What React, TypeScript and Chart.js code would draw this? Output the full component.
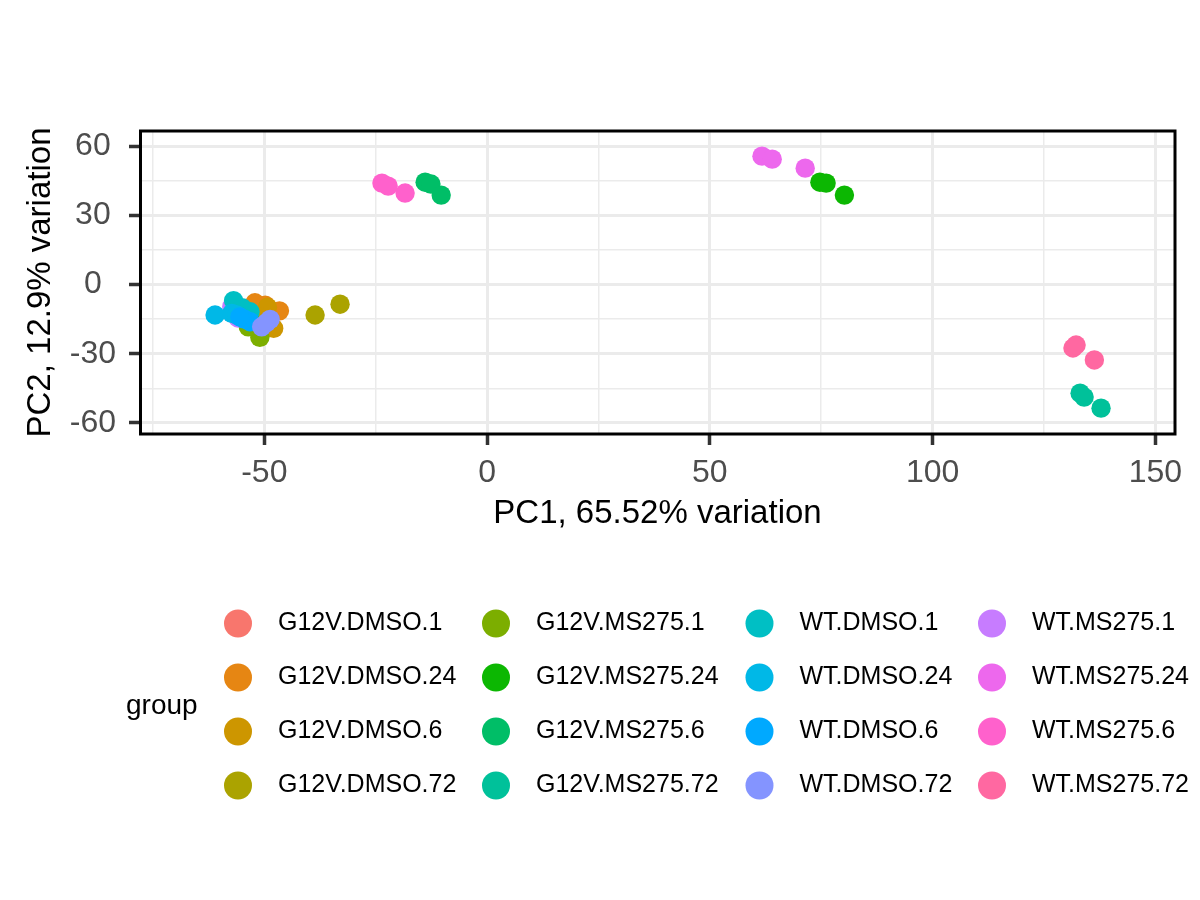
import React, { useEffect, useRef } from "react";
import { Chart, registerables } from "chart.js";

Chart.register(...registerables);

const FONT = '"Liberation Sans", Arial, Helvetica, sans-serif';

const groups = [
  "G12V.DMSO.1", "G12V.DMSO.24", "G12V.DMSO.6", "G12V.DMSO.72",
  "G12V.MS275.1", "G12V.MS275.24", "G12V.MS275.6", "G12V.MS275.72",
  "WT.DMSO.1", "WT.DMSO.24", "WT.DMSO.6", "WT.DMSO.72",
  "WT.MS275.1", "WT.MS275.24", "WT.MS275.6", "WT.MS275.72",
];

const groupColors = [
  "#F8766D", "#E68613", "#CD9600", "#ABA300",
  "#7CAE00", "#0CB702", "#00BE67", "#00C19A",
  "#00BFC4", "#00B8E7", "#00A9FF", "#8494FF",
  "#C77CFF", "#ED68ED", "#FF61CC", "#FF68A1",
];

// PC1 values per group (3 replicates)
const pc1: number[][] = [
  [-51.5, -50.5, -52.5],
  [-52.1, -49.8, -46.6],
  [-47.9, -49.3, -51.0],
  [-38.6, -33.0, -50.0],
  [-51.0, -53.6, -52.0],
  [74.7, 76.1, 80.2],
  [-13.9, -12.6, -10.3],
  [133.1, 134.0, 137.8],
  [-56.9, -53.2, -55.0],
  [-61.05, -57.3, -56.2],
  [-53.2, -54.5, -55.5],
  [-50.6, -48.7, -49.5],
  [-57.3, -55.9, -56.5],
  [61.7, 64.0, 71.4],
  [-23.6, -22.2, -18.4],
  [131.5, 132.2, 136.3],
];

// PC2 values per group (3 replicates)
const pc2: number[][] = [
  [-11.0, -12.5, -13.5],
  [-7.9, -8.9, -11.4],
  [-19.0, -9.8, -14.0],
  [-13.2, -8.5, -17.0],
  [-22.9, -18.3, -17.5],
  [44.4, 44.0, 38.8],
  [44.4, 43.6, 38.8],
  [-47.1, -48.8, -53.6],
  [-7.0, -11.8, -10.0],
  [-13.2, -12.5, -13.2],
  [-16.1, -15.0, -14.0],
  [-18.3, -15.1, -16.5],
  [-9.6, -14.5, -11.5],
  [55.7, 54.4, 50.5],
  [44.0, 42.7, 39.7],
  [-27.5, -26.2, -32.7],
];

// drawing layer per group (higher = drawn later, on top)
const drawLayer = [1, 2, 3, 4, 5, 6, 7, 8, 10, 11, 12, 13, 9, 14, 15, 16];

const xGridValues = [-75, -50, -25, 0, 25, 50, 75, 100, 125, 150];
const xTickLabels = [-50, 0, 50, 100, 150];
const yGridValues = [-60, -45, -30, -15, 0, 15, 30, 45, 60];
const yTickLabels = [-60, -30, 0, 30, 60];
const xRange = [-77.9, 154.4];
const yRange = [-64.8, 66.6];

const xTitle = "PC1, 65.52% variation";
const yTitle = "PC2, 12.9% variation";
const legendTitle = "group";

const panelAndLegend = {
  id: "panelAndLegend",
  afterDraw(chart: any) {
    const { ctx, chartArea: a } = chart;
    ctx.save();
    ctx.strokeStyle = "#000000";
    ctx.lineWidth = 3;
    ctx.strokeRect(a.left + 0.5, a.top, a.right - a.left - 0.5, a.bottom - a.top);

    // legend (ggplot-style, 4 columns filled column-wise)
    const colX = [238, 496, 759.5, 992];
    const rowY0 = 623.5;
    const rowStep = 54;
    ctx.fillStyle = "#000000";
    ctx.font = `28px ${FONT}`;
    ctx.textAlign = "left";
    ctx.textBaseline = "middle";
    ctx.fillText(legendTitle, 126, 706);
    ctx.font = `25px ${FONT}`;
    chart.data.datasets.forEach((ds: any, i: number) => {
      const col = Math.floor(i / 4);
      const row = i % 4;
      const cx = colX[col];
      const cy = rowY0 + row * rowStep;
      ctx.beginPath();
      ctx.arc(cx, cy, 14, 0, Math.PI * 2);
      ctx.fillStyle = ds.backgroundColor;
      ctx.fill();
      ctx.fillStyle = "#000000";
      ctx.fillText(ds.label, cx + 40, cy);
    });
    ctx.restore();
  },
};

export default function App() {
  const ref = useRef<HTMLCanvasElement | null>(null);

  useEffect(() => {
    if (!ref.current) return;
    const datasets = groups.map((g, i) => ({
      label: g,
      data: pc1[i].map((x, j) => ({ x, y: pc2[i][j] })),
      backgroundColor: groupColors[i],
      borderColor: groupColors[i],
      borderWidth: 0,
      pointRadius: 9.7,
      pointHoverRadius: 9.7,
      order: 20 - drawLayer[i],
    }));

    const chart = new Chart(ref.current, {
      type: "scatter",
      data: { datasets },
      options: {
        animation: false,
        responsive: false,
        devicePixelRatio: 1,
        layout: { padding: { top: 131, right: 25, bottom: 366, left: 0 } },
        plugins: {
          legend: { display: false },
          tooltip: { enabled: false },
        },
        scales: {
          x: {
            type: "linear",
            min: xRange[0],
            max: xRange[1],
            afterBuildTicks: (scale: any) => {
              scale.ticks = xGridValues.map((v) => ({ value: v }));
            },
            afterFit: (scale: any) => {
              scale.height = 100;
            },
            border: { display: false },
            grid: {
              color: "#EBEBEB",
              lineWidth: (c: any) => (xTickLabels.includes(c.tick?.value) ? 3 : 1.5),
              drawTicks: true,
              tickLength: 11,
              tickWidth: 3.5,
              tickColor: (c: any) =>
                xTickLabels.includes(c.tick?.value) ? "#333333" : "rgba(0,0,0,0)",
            },
            ticks: {
              autoSkip: false,
              maxRotation: 0,
              padding: 9,
              color: "#4D4D4D",
              font: { family: FONT, size: 32 },
              callback: (v: any) => (xTickLabels.includes(Number(v)) ? String(v) : ""),
            },
            title: {
              display: true,
              text: xTitle,
              color: "#000000",
              font: { family: FONT, size: 33 },
              padding: { top: 0, bottom: 0 },
            },
          },
          y: {
            type: "linear",
            min: yRange[0],
            max: yRange[1],
            afterBuildTicks: (scale: any) => {
              scale.ticks = yGridValues.map((v) => ({ value: v }));
            },
            afterFit: (scale: any) => {
              scale.width = 140;
            },
            border: { display: false },
            grid: {
              color: "#EBEBEB",
              lineWidth: (c: any) => (yTickLabels.includes(c.tick?.value) ? 3 : 1.5),
              drawTicks: true,
              tickLength: 11,
              tickWidth: 3.5,
              tickColor: (c: any) =>
                yTickLabels.includes(c.tick?.value) ? "#333333" : "rgba(0,0,0,0)",
            },
            ticks: {
              autoSkip: false,
              padding: 13,
              crossAlign: "center",
              color: "#4D4D4D",
              font: { family: FONT, size: 32 },
              callback: (v: any) => (yTickLabels.includes(Number(v)) ? String(v) : ""),
            },
            title: {
              display: true,
              text: yTitle,
              color: "#000000",
              font: { family: FONT, size: 33 },
              padding: { top: 21, bottom: 0 },
            },
          },
        },
      },
      plugins: [panelAndLegend],
    } as any);

    return () => chart.destroy();
  }, []);

  return (
    <div style={{ position: "absolute", left: 0, top: 0, width: 1200, height: 900, background: "#ffffff" }}>
      <canvas ref={ref} width={1200} height={900} style={{ width: 1200, height: 900, display: "block" }} />
    </div>
  );
}
